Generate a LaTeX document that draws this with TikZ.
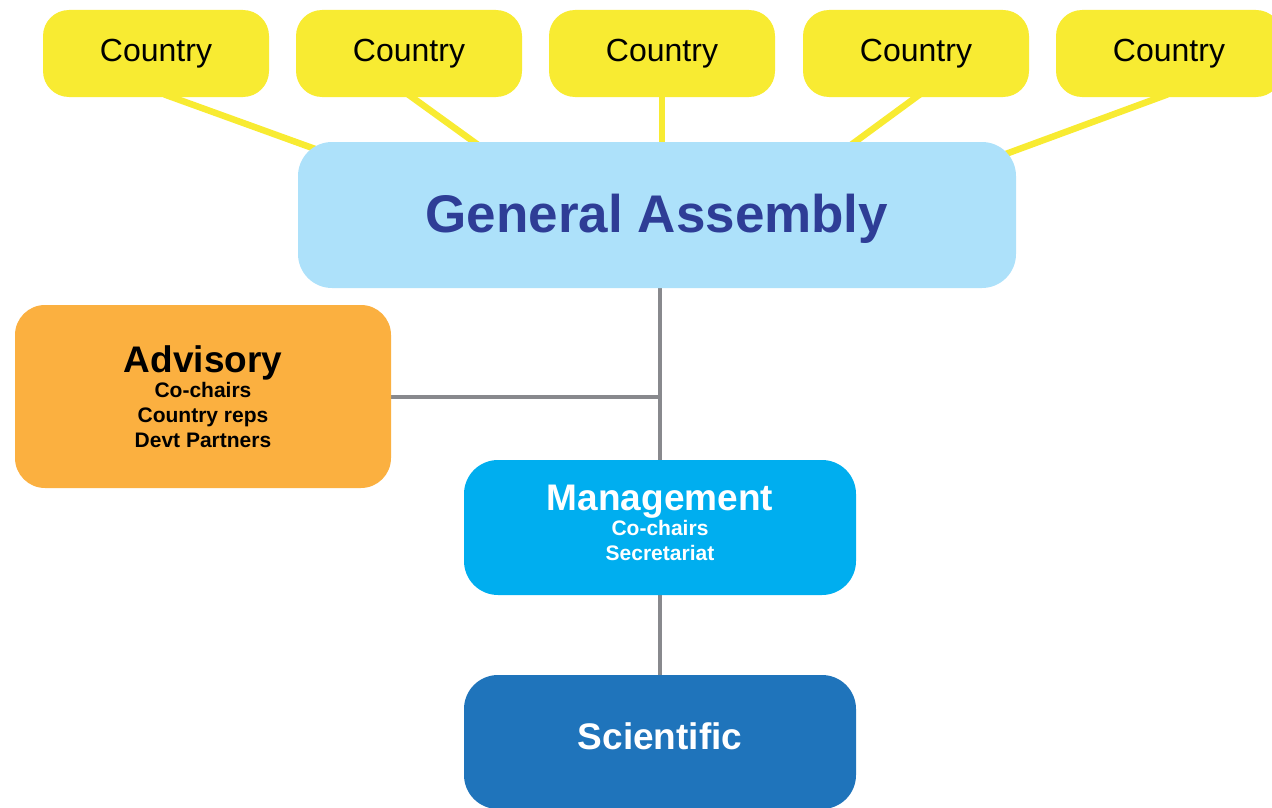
\documentclass[tikz,border=0pt]{standalone}
\usepackage{fontspec}
\setmainfont{Liberation Sans}
\usetikzlibrary{backgrounds}
\definecolor{cyellow}{HTML}{F8EB32}
\definecolor{gablue}{HTML}{ADE1FA}
\definecolor{gatext}{HTML}{2E3D96}
\definecolor{advorange}{HTML}{FBB040}
\definecolor{mgcyan}{HTML}{00AEEF}
\definecolor{scblue}{HTML}{1F74BB}
\definecolor{linegray}{HTML}{88898D}
\begin{document}
\begin{tikzpicture}[x=1pt,y=-1pt,
    country/.style={fill=cyellow, rounded corners=26pt, minimum width=226pt,
      minimum height=87pt, inner sep=0pt, font=\fontsize{32}{38}\selectfont},
    box/.style={rounded corners=34pt, inner sep=0pt, align=center,
      font=\bfseries\fontsize{21}{25}\selectfont},
    tie/.style={cyellow, line width=6.5pt, shorten <=-8pt, shorten >=-8pt},
    link/.style={linegray, line width=4pt}]
    \clip (0,0) rectangle (1272,808);
    \foreach \i/\x in {1/156,2/409,3/662,4/916,5/1169}
        \node[country] (c\i) at (\x,53.5) {Country};
    \node[box, fill=gablue, text=gatext, minimum width=718pt, minimum height=146pt,
        font=\bfseries\fontsize{53}{60}\selectfont] (ga) at (657,215)
        {\rule{0pt}{46pt}General Assembly};
    \node[box, fill=advorange, rounded corners=30pt, minimum width=376pt,
        minimum height=183pt] (adv) at (203,396.5)
        {{\fontsize{37}{40}\selectfont Advisory}\\Co-chairs\\Country reps\\Devt Partners};
    \node[box, fill=mgcyan, text=white, minimum width=392pt, minimum height=135pt]
        (mg) at (660,527.5)
        {{\fontsize{37}{40}\selectfont Management}\\Co-chairs\\Secretariat\rule[-10pt]{0pt}{0pt}};
    \node[box, fill=scblue, text=white, minimum width=392pt, minimum height=134pt]
        (sc) at (660,742) {{\fontsize{37}{40}\selectfont Scientific}\rule[-12pt]{0pt}{0pt}};
    \begin{scope}[on background layer]
        \foreach \i/\dx/\ex/\ey in {1/16/318/150,2/3/474/142,3/0/662/142,4/0/855/142,5/-9/1003/155} {
            \coordinate (e\i) at (\ex,\ey);
            \draw[tie] ([xshift=\dx pt]c\i.south) -- (e\i);
        }
        \draw[link] (ga.south -| mg.north) -- (mg.north);
        \draw[link] (adv.east) -- (adv.east -| mg.north);
        \draw[link] (mg.south) -- (sc.north);
    \end{scope}
\end{tikzpicture}
\end{document}
